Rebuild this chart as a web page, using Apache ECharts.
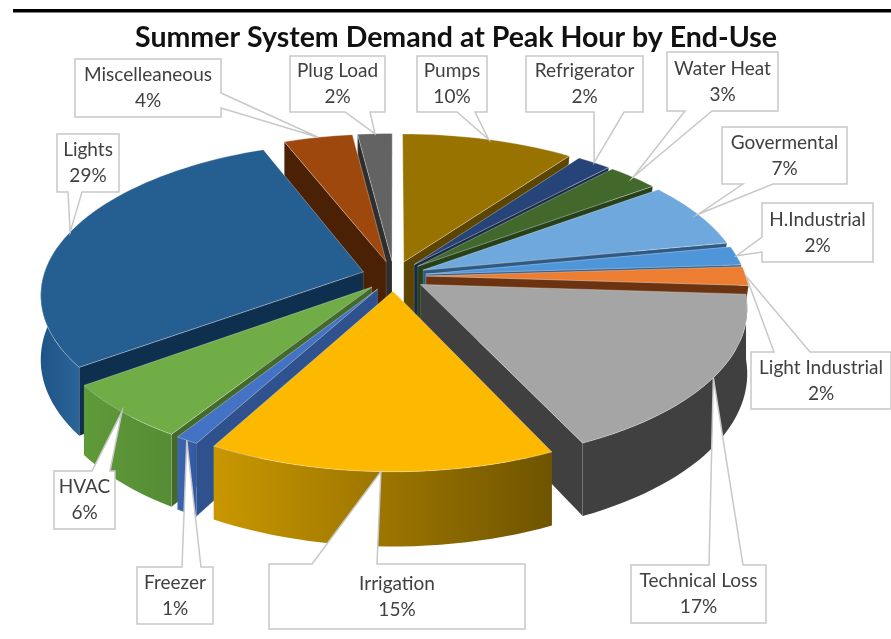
<!DOCTYPE html>
<html lang="en">
<head>
    <meta charset="UTF-8">
    <title>Summer System Demand at Peak Hour by End-Use</title>
    <script src="https://cdn.jsdelivr.net/npm/echarts@6/dist/echarts.min.js"></script>
    <style>
        html, body { margin: 0; padding: 0; background: #fff; }
        #chart-container { width: 891px; height: 639px; }
    </style>
</head>
<body>
    <div id="chart-container"></div>

    <script>
        const chartTitle = 'Summer System Demand at Peak Hour by End-Use';
        const categories = ['Pumps', 'Refrigerator', 'Water Heat', 'Govermental', 'H.Industrial', 'Light Industrial',
            'Technical Loss', 'Irrigation', 'Freezer', 'HVAC', 'Lights', 'Miscelleaneous', 'Plug Load'];
        const shares = [10, 2, 3, 7, 2, 2, 17, 15, 1, 6, 29, 4, 2];

        // colours: top face, outer wall (left/right stops), radial wall
        const topColors = ['#997300', '#264478', '#43682B', '#6FA8DC', '#4E95D9', '#ED7D31',
            '#A5A5A5', '#FDB900', '#4472C4', '#70AD47', '#255E91', '#9E480E', '#636363'];
        const wallLeft = ['#7a5c00', '#1e3660', '#365322', '#4f7eaa', '#3c74a8', '#b05c24',
            '#404040', '#c99700', '#3d66b0', '#5f9a3a', '#1f5488', '#7a380b', '#3a3a3a'];
        const wallRight = ['#5c4500', '#162848', '#283e19', '#3f6488', '#2e5a84', '#8a4a1c',
            '#404040', '#6f5400', '#3358a0', '#558c34', '#2a6498', '#5e2b08', '#2e2e2e'];
        const sideColors = ['#5c4500', '#172a4a', '#26401a', '#2f5a85', '#2f5a85', '#6b3310',
            '#404040', '#7a5c00', '#2f528f', '#436a2b', '#0e2f4d', '#4a2105', '#2e2e2e'];

        // callout layout: box [x, y, w, h], side the pointer leaves from, pointer base on that side
        const calloutBoxes = [
            { box: [417, 56, 70, 56], side: 'bottom', base: [457, 475] },
            { box: [526, 56, 117, 56], side: 'bottom', base: [594, 624] },
            { box: [667, 52, 111, 59], side: 'bottom', base: [685, 712] },
            { box: [722, 127, 125, 57], side: 'bottom', base: [743, 773] },
            { box: [762, 203, 111, 59], side: 'left', base: [237, 252] },
            { box: [751, 352, 140, 57], side: 'top', base: [774, 810] },
            { box: [631, 565, 135, 58], side: 'top', base: [709, 743] },
            { box: [269, 564, 256, 65], side: 'top', base: [312, 377] },
            { box: [137, 567, 76, 57], side: 'top', base: [182, 201] },
            { box: [54, 471, 61, 58], side: 'top', base: [92, 110] },
            { box: [57, 134, 62, 58], side: 'bottom', base: [68, 82] },
            { box: [75, 59, 146, 58], side: 'right', base: [93, 108] },
            { box: [290, 56, 95, 56], side: 'bottom', base: [345, 370] }
        ];

        // projection of the tilted pie
        const centerX = 394, centerY = 276;
        const radiusX = 320, radiusY = 150;
        const perspective = 7;
        const explode = 0.1;
        const depth = 63;

        const total = shares.reduce((a, b) => a + b, 0);
        const startAngles = [];
        let running = 0;
        shares.forEach(v => {
            startAngles.push(running / total * 360);
            running += v;
        });

        function toRad(deg) { return deg * Math.PI / 180; }

        function midAngle(i) { return startAngles[i] + shares[i] / total * 180; }

        // angle is clockwise from 12 o'clock, r is 0..1 of the radius
        function project(i, angle, r, drop) {
            const mid = toRad(midAngle(i));
            const a = toRad(angle);
            const x = Math.sin(a) * r + Math.sin(mid) * explode;
            const y = Math.cos(a) * r + Math.cos(mid) * explode;
            const s = perspective / (perspective + y);
            return [centerX + x * s * radiusX, centerY - y * s * radiusY + drop * s];
        }

        function arcPoints(i, from, to, drop) {
            const pts = [];
            const steps = Math.max(2, Math.ceil((to - from) / 2));
            for (let k = 0; k <= steps; k++) {
                pts.push(project(i, from + (to - from) * k / steps, 1, drop));
            }
            return pts;
        }

        // back slices are painted first
        const paintOrder = categories.map((c, i) => i)
            .sort((a, b) => Math.cos(toRad(midAngle(b))) - Math.cos(toRad(midAngle(a))));

        function sideWall(i, angle, z2) {
            // the walls on the right stay tucked behind the next slice
            const lowerEdge = angle < 100 ? 0.97 : 1;
            return {
                type: 'polygon',
                z2: z2,
                shape: { points: [project(i, angle, 0, 0), project(i, angle, 1, 0), project(i, angle, lowerEdge, depth), project(i, angle, 0, depth)] },
                style: { fill: sideColors[i], stroke: 'rgba(255,255,255,0.25)', lineWidth: 0.6 }
            };
        }

        function renderSlice(params, api) {
            const i = api.value(0);
            const rank = params.dataIndex * 10;
            const start = startAngles[i];
            const end = start + shares[i] / total * 360;
            const children = [];

            // a radial wall shows only when it faces the viewer
            if (start >= 180) children.push(sideWall(i, start, rank));
            if (end <= 180) children.push(sideWall(i, end, rank + 1));

            // only the part of the outer wall that faces the viewer
            const wallFrom = Math.max(start, 94), wallTo = Math.min(end, 280);
            if (wallTo > wallFrom) {
                const upper = arcPoints(i, wallFrom, wallTo, 0);
                const lower = arcPoints(i, wallFrom, wallTo, depth).reverse();
                children.push({
                    type: 'polygon',
                    z2: rank + 2,
                    shape: { points: upper.concat(lower) },
                    style: {
                        fill: new echarts.graphic.LinearGradient(0, 0, 1, 0, [
                            { offset: 0, color: wallLeft[i] },
                            { offset: 1, color: wallRight[i] }
                        ])
                    }
                });
            }

            children.push({
                type: 'polygon',
                z2: rank + 3,
                shape: { points: [project(i, start, 0, 0)].concat(arcPoints(i, start, end, 0)) },
                style: { fill: topColors[i], stroke: 'rgba(255,255,255,0.4)', lineWidth: 0.8 }
            });
            return { type: 'group', children: children };
        }

        function calloutPoints(layout, tip) {
            const [x, y, w, h] = layout.box;
            const [b0, b1] = layout.base;
            const r = x + w, d = y + h;
            if (layout.side === 'top') {
                return [[x, y], [b0, y], tip, [b1, y], [r, y], [r, d], [x, d]];
            }
            if (layout.side === 'right') {
                return [[x, y], [r, y], [r, b0], tip, [r, b1], [r, d], [x, d]];
            }
            if (layout.side === 'bottom') {
                return [[x, y], [r, y], [r, d], [b1, d], tip, [b0, d], [x, d]];
            }
            return [[x, y], [r, y], [r, d], [x, d], [x, b1], tip, [x, b0]];
        }

        function renderCallout(params, api) {
            const i = api.value(0);
            const layout = calloutBoxes[i];
            const tip = project(i, midAngle(i), 1, 0);
            const [x, y, w, h] = layout.box;
            return {
                type: 'group',
                children: [{
                    type: 'polygon',
                    shape: { points: calloutPoints(layout, tip) },
                    style: { fill: '#fff', stroke: '#C8C8C8', lineWidth: 1.5 }
                }, {
                    type: 'text',
                    z2: 5,
                    style: {
                        x: x + w / 2,
                        y: y + h / 2,
                        text: categories[i] + '\n' + shares[i] + '%',
                        align: 'center',
                        verticalAlign: 'middle',
                        fill: '#404040',
                        font: '19px Lato',
                        lineHeight: 26
                    }
                }]
            };
        }

        const myChart = echarts.init(document.getElementById('chart-container'), null, { renderer: 'canvas' });
        myChart.setOption({
            animation: false,
            backgroundColor: '#fff',
            title: {
                text: chartTitle,
                left: 451,
                top: 18,
                textAlign: 'center',
                textStyle: { fontFamily: 'Lato', fontWeight: 'bold', fontSize: 28.5, color: '#111' }
            },
            graphic: [{
                type: 'rect',
                shape: { x: 13, y: 9, width: 878, height: 3.5 },
                style: { fill: '#000' }
            }],
            series: [
                {
                    type: 'custom',
                    coordinateSystem: 'none',
                    silent: true,
                    z: 2,
                    data: paintOrder.map(i => [i]),
                    renderItem: renderSlice
                },
                {
                    type: 'custom',
                    coordinateSystem: 'none',
                    silent: true,
                    z: 3,
                    data: categories.map((c, i) => [i]),
                    renderItem: renderCallout
                }
            ]
        });
    </script>
</body>
</html>
